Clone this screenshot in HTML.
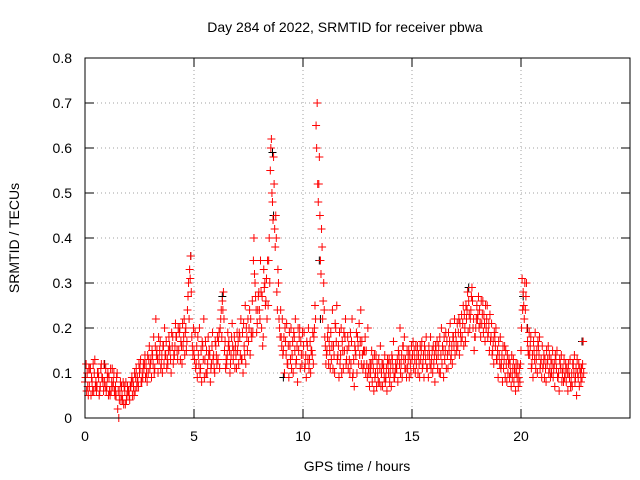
<!DOCTYPE html>
<html><head><meta charset="utf-8"><style>
body{margin:0;background:#fff;}
svg{display:block;font-family:"Liberation Sans",sans-serif;}
</style></head><body>
<svg id="chart" width="640" height="480" xmlns="http://www.w3.org/2000/svg">
<rect width="640" height="480" fill="#fff"/>
<text x="345" y="32" font-size="14" text-anchor="middle">Day 284 of 2022, SRMTID for receiver pbwa</text>
<text x="0" y="0" font-size="14" text-anchor="middle" transform="translate(19,238) rotate(-90)">SRMTID / TECUs</text>
<text x="357" y="471" font-size="14" text-anchor="middle">GPS time / hours</text>
<g id="grid"></g><g id="ticks"></g><g id="marks"></g>
<rect x="85" y="58" width="545" height="360" fill="none" stroke="#000" stroke-width="1"/>
</svg>
<script>
const xTicks=[0,5,10,15,20];
const yTicks=[0,0.1,0.2,0.3,0.4,0.5,0.6,0.7,0.8];
const yTickLabels=["0","0.1","0.2","0.3","0.4","0.5","0.6","0.7","0.8"];
const tStart=0, tStep=0.1;
const seriesA=[.08,.10,.07,.09,.06,.08,.10,.07,.09,.08,
.07,.09,.06,.08,.07,.02,.06,.05,.07,.04,
.06,.07,.08,.06,.09,.10,.08,.11,.12,.10,
.12,.14,.11,.15,.13,.12,.16,.14,.12,.15,
.16,.14,.18,.15,.17,.16,.19,.24,.33,.18,
.15,.12,.14,.11,.16,.13,.10,.15,.12,.14,
.16,.13,.20,.26,.15,.12,.17,.14,.13,.16,
.15,.18,.13,.16,.20,.17,.22,.19,.30,.21,
.24,.20,.33,.26,.25,.55,.48,.42,.28,.22,
.18,.15,.17,.12,.16,.14,.18,.13,.15,.17,
.14,.12,.16,.13,.15,.18,.65,.48,.35,.22,
.18,.15,.17,.13,.16,.20,.14,.12,.17,.15,
.13,.16,.12,.10,.15,.18,.14,.17,.12,.15,
.11,.10,.13,.09,.12,.08,.10,.11,.09,.12,
.10,.13,.09,.11,.14,.12,.16,.13,.11,.14,
.13,.15,.12,.14,.13,.12,.15,.11,.14,.13,
.12,.15,.14,.10,.16,.13,.17,.15,.14,.18,
.19,.16,.21,.18,.23,.22,.26,.24,.20,.18,
.22,.24,.21,.23,.20,.19,.17,.15,.18,.13,
.14,.12,.11,.15,.10,.12,.09,.11,.10,.09,
.15,.28,.24,.17,.14,.12,.15,.13,.16,.12,
.11,.13,.12,.14,.10,.11,.13,.09,.12,.10,
.09,.11,.10,.08,.12,.09,.10,.11,.09];
const seriesB=[.12,.05,.11,.06,.13,.07,.05,.12,.06,.11,
.10,.05,.11,.06,.09,.00,.04,.08,.03,.07,
.04,.09,.05,.11,.07,.13,.09,.14,.08,.16,
.09,.18,.22,.10,.17,.10,.20,.11,.18,.10,
.12,.21,.13,.20,.12,.22,.15,.30,.36,.14,
.19,.09,.20,.08,.22,.10,.18,.08,.19,.10,
.12,.19,.24,.28,.11,.19,.10,.21,.18,.11,
.12,.22,.10,.25,.15,.24,.18,.40,.24,.27,
.35,.16,.30,.22,.40,.62,.58,.45,.33,.18,
.22,.10,.21,.09,.20,.10,.22,.08,.20,.12,
.19,.09,.20,.10,.19,.25,.70,.58,.42,.30,
.12,.20,.11,.24,.10,.25,.09,.20,.11,.22,
.18,.10,.22,.07,.19,.12,.24,.11,.18,.09,
.07,.15,.06,.14,.08,.16,.07,.14,.06,.13,
.07,.17,.12,.08,.20,.09,.18,.09,.15,.10,
.17,.10,.16,.09,.17,.09,.18,.09,.18,.10,
.08,.17,.10,.20,.09,.19,.11,.21,.12,.22,
.15,.22,.17,.25,.17,.28,.20,.29,.15,.22,
.27,.18,.26,.17,.25,.15,.21,.12,.20,.09,
.18,.08,.16,.08,.13,.07,.13,.06,.12,.08,
.31,.22,.30,.14,.18,.09,.19,.10,.18,.09,
.14,.08,.16,.09,.15,.07,.15,.06,.14,.08,
.12,.06,.13,.07,.14,.05,.12,.08,.17];
const seriesC=[.09,.07,.11,.08,.10,.06,.09,.11,.08,.07,
.09,.06,.08,.10,.05,.06,.08,.04,.06,.05,
.05,.08,.07,.09,.08,.11,.10,.12,.10,.13,
.13,.12,.16,.13,.15,.14,.12,.17,.15,.13,
.18,.16,.15,.19,.16,.18,.20,.27,.31,.16,
.13,.16,.12,.15,.13,.17,.12,.14,.16,.11,
.14,.17,.22,.24,.17,.14,.15,.18,.15,.14,
.17,.14,.19,.14,.18,.20,.19,.35,.27,.24,
.22,.27,.29,.31,.35,.60,.44,.38,.24,.20,
.16,.18,.14,.16,.13,.17,.15,.16,.18,.14,
.16,.14,.13,.17,.14,.20,.60,.52,.32,.26,
.16,.18,.15,.16,.14,.17,.16,.14,.15,.18,
.15,.13,.17,.13,.14,.16,.17,.14,.15,.12,
.10,.12,.11,.10,.10,.11,.12,.09,.11,.10,
.12,.11,.10,.13,.12,.14,.13,.11,.13,.12,
.14,.13,.14,.12,.15,.14,.13,.14,.12,.15,
.14,.13,.16,.14,.15,.15,.14,.17,.16,.16,
.17,.19,.19,.21,.20,.24,.23,.27,.22,.20,
.23,.21,.23,.21,.22,.21,.18,.17,.16,.15,
.12,.14,.13,.12,.12,.10,.11,.10,.09,.11,
.20,.25,.27,.15,.16,.14,.13,.15,.14,.13,
.12,.11,.13,.11,.12,.12,.11,.10,.11,.11,
.10,.10,.09,.10,.10,.11,.09,.10,.12];
const seriesD=[.06,.11,.05,.12,.07,.10,.06,.09,.12,.06,
.05,.11,.07,.05,.10,.04,.07,.03,.08,.06,
.07,.05,.10,.07,.12,.08,.12,.09,.14,.11,
.15,.10,.14,.18,.11,.16,.14,.13,.16,.19,
.14,.18,.20,.13,.21,.14,.17,.22,.28,.20,
.11,.18,.10,.17,.09,.15,.14,.11,.13,.17,
.18,.11,.18,.22,.13,.16,.12,.16,.11,.19,
.19,.13,.21,.12,.22,.14,.26,.32,.19,.28,
.28,.18,.25,.35,.30,.50,.52,.40,.30,.24,
.14,.20,.12,.19,.11,.19,.12,.20,.11,.19,
.11,.17,.11,.15,.12,.22,.52,.45,.38,.24,
.14,.12,.19,.11,.21,.13,.19,.10,.19,.12,
.11,.19,.09,.16,.10,.21,.12,.15,.10,.20,
.12,.08,.14,.07,.13,.07,.12,.08,.13,.08,
.14,.09,.11,.15,.10,.16,.11,.15,.09,.16,
.11,.16,.10,.16,.11,.16,.11,.16,.11,.16,
.16,.11,.18,.12,.18,.11,.19,.13,.18,.14,
.21,.14,.23,.16,.25,.19,.22,.26,.18,.25,
.20,.26,.19,.25,.18,.23,.14,.19,.13,.17,
.11,.16,.09,.14,.09,.14,.08,.12,.07,.12,
.24,.30,.20,.19,.11,.17,.11,.17,.11,.16,
.09,.15,.10,.13,.09,.14,.09,.13,.08,.13,
.08,.12,.07,.12,.08,.13,.07,.11,.10];
const blackTimes=[4.85,6.3,8.6,8.65,10.75,10.8,17.6,20.1,20.3,22.8,0.9,9.1];
const blackValues=[0.36,0.27,0.59,0.45,0.35,0.22,0.29,0.27,0.2,0.17,0.12,0.09];

const NS="http://www.w3.org/2000/svg";
const X=v=>85+v*(545/25);
const Y=v=>418-v*(360/0.8);
const grid=document.getElementById('grid'),ticks=document.getElementById('ticks'),marks=document.getElementById('marks');
function mk(tag,attrs,parent){const e=document.createElementNS(NS,tag);for(const k in attrs)e.setAttribute(k,attrs[k]);parent.appendChild(e);return e;}
xTicks.forEach(t=>{
  const x=X(t);
  if(t>0){const g=mk('line',{x1:x,y1:58,x2:x,y2:418,stroke:'#a0a0a0','stroke-dasharray':'1,3'},grid);
  
  }
  mk('line',{x1:x,y1:418,x2:x,y2:409,stroke:'#000'},ticks);
  mk('line',{x1:x,y1:58,x2:x,y2:67,stroke:'#000'},ticks);
  const l=mk('text',{x:x,y:441,'font-size':14,'text-anchor':'middle'},ticks);l.textContent=t;
  
  
});
yTicks.forEach((t,i)=>{
  const y=Y(t);
  if(i>0&&i<yTicks.length-1){const g=mk('line',{x1:85,y1:y,x2:630,y2:y,stroke:'#a0a0a0','stroke-dasharray':'1,3'},grid);
  
  }
  mk('line',{x1:85,y1:y,x2:94,y2:y,stroke:'#000'},ticks);
  mk('line',{x1:630,y1:y,x2:621,y2:y,stroke:'#000'},ticks);
  const l=mk('text',{x:72,y:y+5,'font-size':14,'text-anchor':'end'},ticks);l.textContent=yTickLabels[i];
  
  
});
function plus(t,v,color,name){
  const x=X(t),y=Y(v);
  const p=mk('path',{d:`M${x-4},${y}H${x+4}M${x},${y-4}V${y+4}`,stroke:color,'stroke-width':1,fill:'none'},marks);
  
  
}
blackTimes.forEach((t,i)=>plus(t,blackValues[i],'#000','black-point'));
seriesA.forEach((v,i)=>plus(tStart+i*tStep,v,'#ff0000','red-point'));
seriesC.forEach((v,i)=>plus(tStart+i*tStep+0.025,v,'#ff0000','red-point'));
seriesB.forEach((v,i)=>plus(tStart+i*tStep+0.05,v,'#ff0000','red-point'));
seriesD.forEach((v,i)=>plus(tStart+i*tStep+0.075,v,'#ff0000','red-point'));
</script>
</body></html>
